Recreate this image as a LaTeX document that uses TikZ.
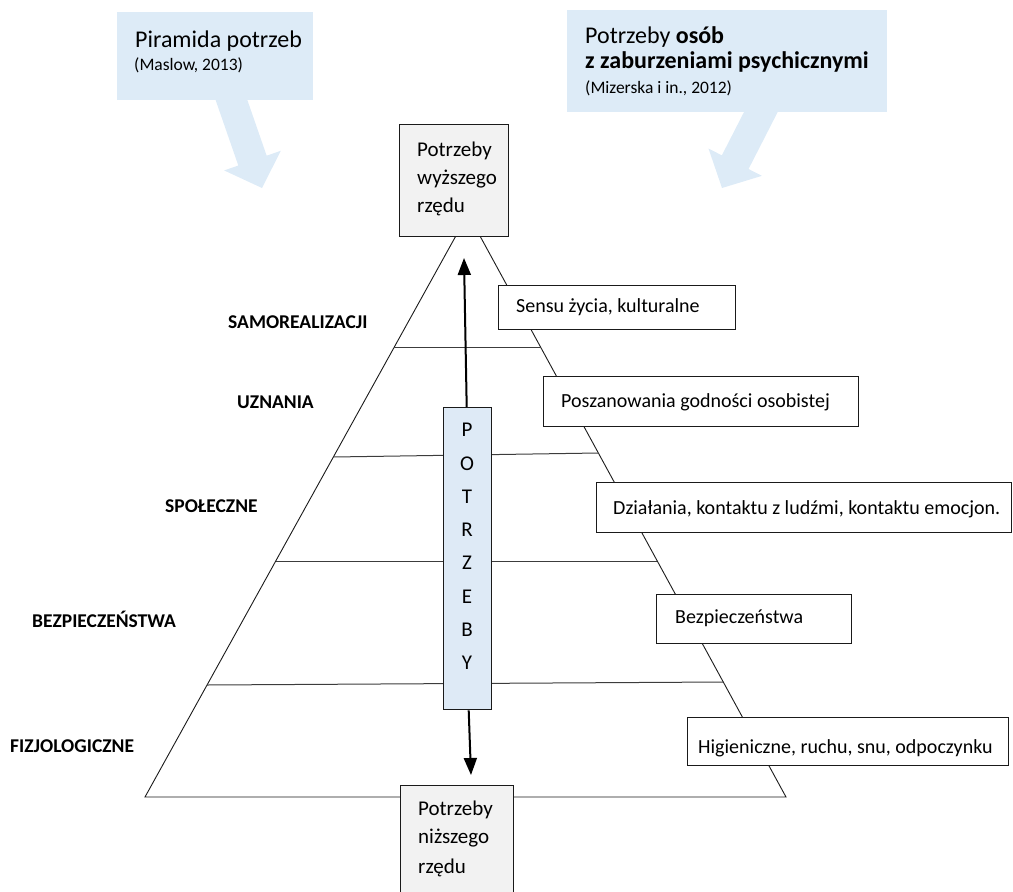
\documentclass[tikz,border=0pt]{standalone}
\usepackage{fontspec}
\setmainfont{Carlito}
\usetikzlibrary{calc,arrows.meta}

\definecolor{callout}{HTML}{DDEBF7}
\definecolor{stackfill}{HTML}{DEEAF6}
\definecolor{grayfill}{HTML}{F2F2F2}
\definecolor{ink}{HTML}{1A1A1A}

\tikzset{
  calloutbg/.style={fill=callout, draw=none},
  pyramidedge/.style={draw=ink, line width=0.9pt},
  tierline/.style={draw=ink!85, line width=1pt},
  framebox/.style={draw=ink, line width=1.4pt, fill=white, inner sep=0pt, anchor=north west},
  endbox/.style={framebox, fill=grayfill},
  stackbox/.style={framebox, fill=stackfill},
  boxtext/.style={font=\fontsize{20}{24}\selectfont, inner sep=0pt, anchor=base west},
  endtext/.style={font=\fontsize{21}{28}\selectfont, inner sep=0pt, anchor=base west},
  levellabel/.style={font=\fontsize{19.5}{23}\selectfont\bfseries, inner sep=0pt, anchor=base west},
  titletext/.style={font=\fontsize{24}{28}\selectfont, inner sep=0pt, anchor=base west},
  sourcetext/.style={font=\fontsize{17.5}{21}\selectfont, inner sep=0pt, anchor=base west},
  stackletter/.style={font=\fontsize{21}{24}\selectfont, inner sep=0pt, anchor=center},
  mainarrow/.style={draw=black, line width=2pt, -{Triangle[width=13pt,length=17pt]}},
}

% block arrow from #1 (start) to #2 (tip)
\newcommand\blockarrow[2]{%
  \coordinate (#2-neck) at ($(#2)!29pt!(#1)$);
  \fill[calloutbg] ($(#1)!15pt!90:(#2)$) -- ($(#2-neck)!15pt!90:(#2)$)
    -- ($(#2-neck)!30pt!90:(#2)$) -- (#2) -- ($(#2-neck)!30pt!-90:(#2)$)
    -- ($(#2-neck)!15pt!-90:(#2)$) -- ($(#1)!15pt!-90:(#2)$) -- cycle;
}

\begin{document}
\begin{tikzpicture}[x=1pt,y=-1pt]
\useasboundingbox (0,0) rectangle (1013,892);

% callouts
\coordinate (lstart) at (228,90);
\coordinate (ltip) at (262,188);
\blockarrow{lstart}{ltip}
\coordinate (rstart) at (767,100);
\coordinate (rtip) at (722,188);
\blockarrow{rstart}{rtip}

\node[calloutbg, anchor=north west, minimum width=196, minimum height=88, inner sep=0pt] (leftcallout) at (117,12) {};
\node[titletext] (lt1) at (135,47) {Piramida potrzeb};
\node[sourcetext] (lt2) at (134,70) {(Maslow, 2013)};

\node[calloutbg, anchor=north west, minimum width=320, minimum height=102, inner sep=0pt] (rightcallout) at (567,10) {};
\node[titletext] (rt1) at (585,43) {Potrzeby \textbf{osób}};
\node[titletext] (rt2) at (585,68) {\textbf{z zaburzeniami psychicznymi}};
\node[sourcetext] (rt3) at (585,93) {(Mizerska i in., 2012)};

% pyramid
\coordinate (apex) at (468,214);
\coordinate (bl) at (145,797);
\coordinate (br) at (786,797);
\draw[pyramidedge] (bl) -- (apex) -- (br) -- cycle;
\draw[tierline] (394.3,347) -- (540.5,347);
\draw[tierline] (333.4,457) -- (598.3,453);
\draw[tierline] (275.7,561) -- (657.3,561);
\draw[tierline] (207,685) -- (723.3,682);

% vertical needs axis
\node[stackbox, minimum width=48, minimum height=302] (stack) at (443,407) {};
\coordinate (uptip) at (464,258);
\coordinate (downtip) at (471,775);
\draw[mainarrow] ([xshift=-1pt]stack.north) -- (uptip);
\draw[mainarrow] ([xshift=1pt]stack.south) -- (downtip);
\foreach \l [count=\i from 0] in {P,O,T,R,Z,E,B,Y}
  \node[stackletter] (s\i) at (467,430+33.3*\i) {\l};

\node[endbox, minimum width=109, minimum height=112] (top) at (399,124) {};
\node[endtext] (top1) at (417,156) {Potrzeby};
\node[endtext] (top2) at (417,184) {wyższego};
\node[endtext] (top3) at (417,212) {rzędu};

\node[endbox, minimum width=113, minimum height=130] (bottom) at (400,785) {};
\node[endtext] (bot1) at (418,815) {Potrzeby};
\node[endtext] (bot2) at (418,843) {niższego};
\node[endtext] (bot3) at (418,873) {rzędu};

% needs of persons with mental disorders
\node[framebox, minimum width=237, minimum height=44] (r1) at (498,285) {};
\node[boxtext] (t1) at (516,312) {Sensu życia, kulturalne};
\node[framebox, minimum width=315, minimum height=50] (r2) at (543,376) {};
\node[boxtext] (t2) at (561,407) {Poszanowania godności osobistej};
\node[framebox, minimum width=415, minimum height=50] (r3) at (596,482) {};
\node[boxtext] (t3) at (613,514) {Działania, kontaktu z ludźmi, kontaktu emocjon.};
\node[framebox, minimum width=195, minimum height=49] (r4) at (656,594) {};
\node[boxtext] (t4) at (675,623) {Bezpieczeństwa};
\node[framebox, minimum width=321, minimum height=48] (r5) at (687,717) {};
\node[boxtext] (t5) at (698,753) {Higieniczne, ruchu, snu, odpoczynku};

% Maslow levels
\node[levellabel] (m1) at (228,328) {SAMOREALIZACJI};
\node[levellabel] (m2) at (237,408) {UZNANIA};
\node[levellabel] (m3) at (165,512) {SPOŁECZNE};
\node[levellabel] (m4) at (32,627) {BEZPIECZEŃSTWA};
\node[levellabel] (m5) at (10,752) {FIZJOLOGICZNE};
\end{tikzpicture}
\end{document}
